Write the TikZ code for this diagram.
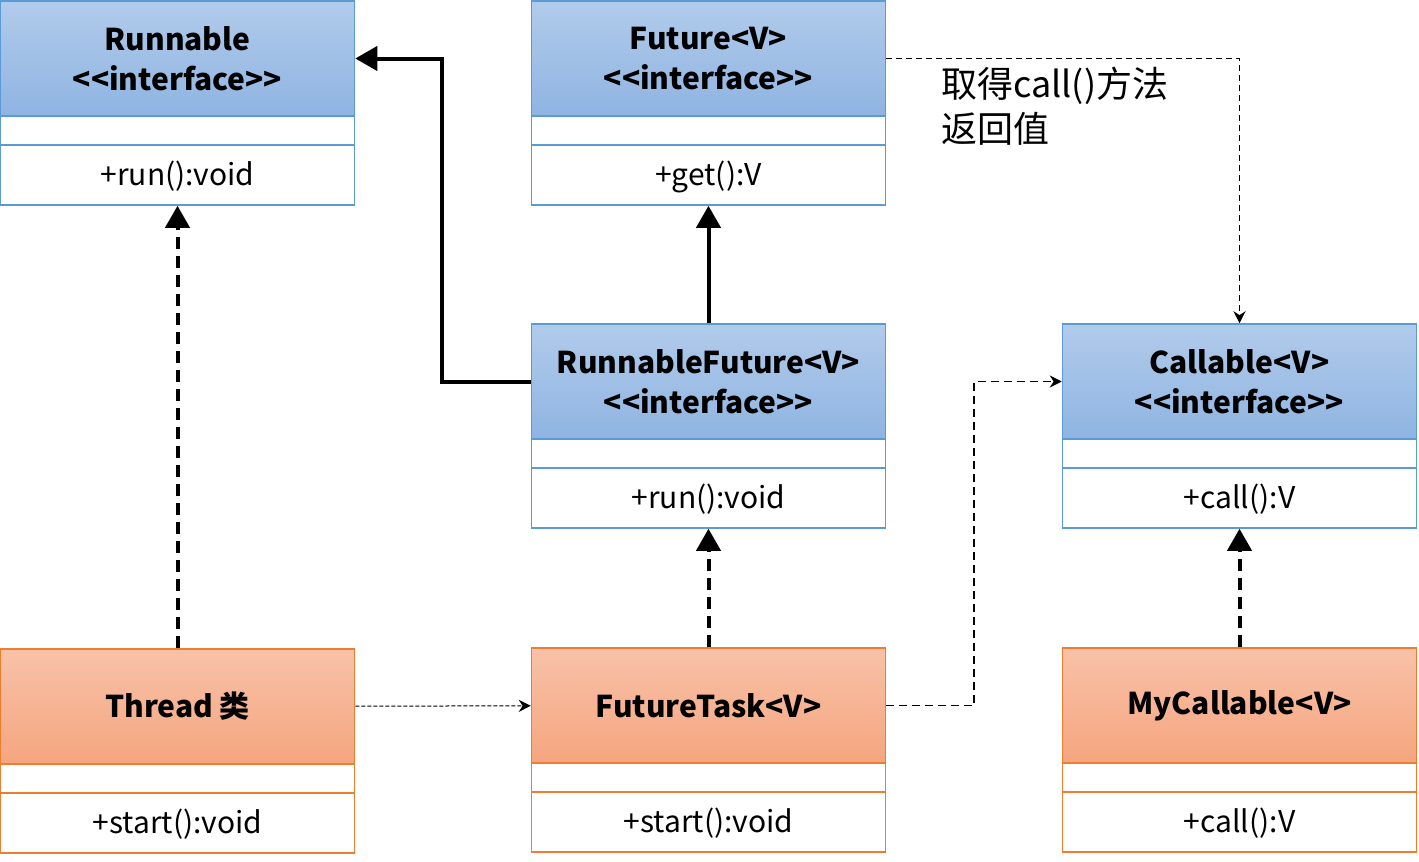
\documentclass[tikz,border=0pt]{standalone}
\usepackage{fontspec}
\setmainfont{Noto Sans CJK SC}
\usepackage{tikz}
\usetikzlibrary{shapes,arrows,arrows.meta}
\usetikzlibrary{positioning,fit}
\definecolor{blueTop}{HTML}{B1CBEA}
\definecolor{blueBot}{HTML}{8FB4E2}
\definecolor{blueLine}{HTML}{5B9BD5}
\definecolor{orgTop}{HTML}{F8C2A8}
\definecolor{orgBot}{HTML}{F5A57F}
\definecolor{orgLine}{HTML}{ED7D31}
\tikzstyle{head} = [draw, line width=1.5pt, minimum width=354pt, minimum height=115pt,
    inner sep=0pt, align=center, font=\fontsize{30}{40}\selectfont\bfseries]
\tikzstyle{iface} = [head, draw=blueLine, top color=blueTop, bottom color=blueBot]
\tikzstyle{cls} = [head, draw=orgLine, top color=orgTop, bottom color=orgBot]
\tikzstyle{gap} = [draw, line width=1.5pt, fill=white, minimum width=354pt,
    minimum height=29pt, inner sep=0pt]
\tikzstyle{meth} = [draw, line width=1.5pt, fill=white, minimum width=354pt,
    minimum height=60pt, inner sep=0pt, text depth=4pt, font=\fontsize{30}{34}\selectfont]
\tikzstyle{real} = [line width=4pt, dash pattern=on 12pt off 7pt,
    -{Triangle[length=22pt,width=24pt]}]
\tikzstyle{ext} = [line width=4pt, -{Triangle[length=22pt,width=24pt]}]
\tikzstyle{uses} = [line width=1.8pt, -{Stealth[length=12pt,width=12pt]}]
\newcommand{\stereo}{<{}<interface>{}>}

\begin{document}
\begin{tikzpicture}[node distance = 531pt, auto]
  \useasboundingbox (0,0) rectangle (1419pt,-862pt);
  % interfaces
  \node [iface] at (177.5pt,-58.5pt) (rh) {Runnable\\\stereo};
  \node [iface, right of=rh] (fh) {Future<V>\\\stereo};
  \node [iface, below of=fh, node distance=323pt] (rfh) {RunnableFuture<V>\\\stereo};
  \node [iface, right of=rfh] (ch) {Callable<V>\\\stereo};
  % classes
  \node [cls, below of=rh, node distance=648pt] (th) {Thread 类};
  \node [cls, below of=rfh, node distance=324pt] (fth) {FutureTask<V>};
  \node [cls, below of=ch, node distance=324pt] (mh) {MyCallable<V>};
  % fields and methods
  \node [gap, draw=blueLine, below of=rh, node distance=72pt] (rg) {};
  \node [meth, draw=blueLine, below of=rg, node distance=44.5pt] (rm) {+run():void};
  \node [gap, draw=blueLine, below of=fh, node distance=72pt] (fg) {};
  \node [meth, draw=blueLine, below of=fg, node distance=44.5pt] (fm) {+get():V};
  \node [gap, draw=blueLine, below of=rfh, node distance=72pt] (rfg) {};
  \node [meth, draw=blueLine, below of=rfg, node distance=44.5pt] (rfm) {+run():void};
  \node [gap, draw=blueLine, below of=ch, node distance=72pt] (cg) {};
  \node [meth, draw=blueLine, below of=cg, node distance=44.5pt] (cm) {+call():V};
  \node [gap, draw=orgLine, below of=th, node distance=72pt] (tg) {};
  \node [meth, draw=orgLine, below of=tg, node distance=44.5pt] (tm) {+start():void};
  \node [gap, draw=orgLine, below of=fth, node distance=72pt] (ftg) {};
  \node [meth, draw=orgLine, below of=ftg, node distance=44.5pt] (ftm) {+start():void};
  \node [gap, draw=orgLine, below of=mh, node distance=72pt] (mg) {};
  \node [meth, draw=orgLine, below of=mg, node distance=44.5pt] (mm) {+call():V};
  % note
  \node [anchor=north west, align=left, inner sep=0pt,
    font=\fontsize{36}{45}\selectfont] at (941pt,-67pt) (note) {取得call()方法\\返回值};
  % connectors
  \draw [real] (th) -- (rm);
  \draw [real] (fth) -- (rfm);
  \draw [real] (mh) -- (cm);
  \draw [ext] (rfh) -- (fm);
  \draw [ext] (rfh.west) -- ++(-89pt,0) |- (rh.east);
  \draw [uses, dash pattern=on 4pt off 2pt, line width=1pt] (th) -- (fth);
  \draw [uses, dash pattern=on 8pt off 5pt] (fth.east) -- ++(88pt,0) |- (ch.west);
  \draw [uses, dash pattern=on 6pt off 4pt] (fh.east) -| (ch.north);
\end{tikzpicture}
\end{document}
